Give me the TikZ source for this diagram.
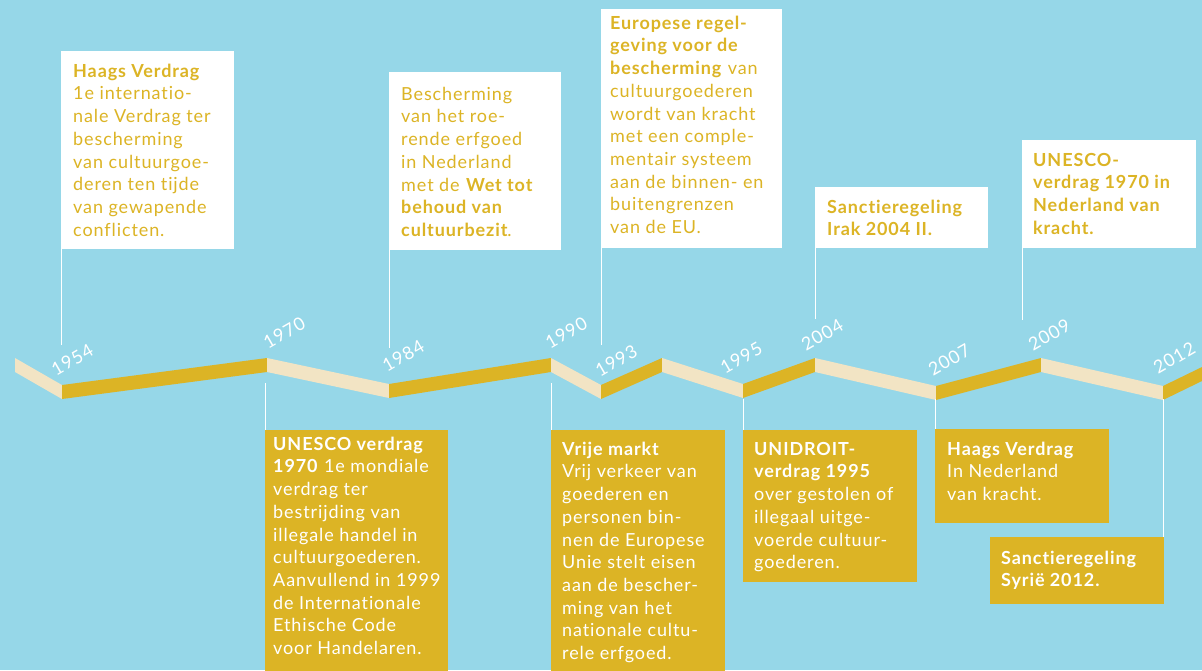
\documentclass[tikz,border=0pt]{standalone}
\usepackage{fontspec}
\setmainfont{Lato}[LetterSpace=5, Ligatures=NoCommon]
\newfontfamily\yrfont{Lato}[LetterSpace=6]
\usetikzlibrary{calc}
\definecolor{bg}{HTML}{96D7E8}
\definecolor{gold}{HTML}{DCB425}
\definecolor{cream}{HTML}{F2E4C4}
\begin{document}
\begin{tikzpicture}[x=1pt,y=-1pt,
  wbox/.style={fill=white, inner sep=0pt, anchor=north west},
  gbox/.style={fill=gold, inner sep=0pt, anchor=north west},
  txt/.style={inner sep=0pt, anchor=north west, align=left, font=\fontsize{18}{22.7}\selectfont},
  wtxt/.style={txt, text=gold},
  gtxt/.style={txt, text=white},
  yr/.style={inner sep=0pt, anchor=south west, rotate=30, text=white, font=\yrfont\fontsize{18}{18}\selectfont},
  conn/.style={draw=white, line width=1.2pt},
  ]
\fill[bg] (0,0) rectangle (1202,670);
\useasboundingbox (0,0) rectangle (1202,670);

% band vertices (top edge)
\path (15,358) coordinate (v0) (62,385) coordinate (v1) (267,358) coordinate (v2)
      (389,384) coordinate (v3) (551,358) coordinate (v4) (601,385) coordinate (v5)
      (662,358) coordinate (v6) (743,384) coordinate (v7) (815,358) coordinate (v8)
      (936,386) coordinate (v9) (1041,358) coordinate (v10) (1163,386) coordinate (v11)
      (1202,367) coordinate (v12);
\foreach \i/\j/\col in {0/1/cream,1/2/gold,2/3/cream,3/4/gold,4/5/cream,5/6/gold,6/7/cream,7/8/gold,8/9/cream,9/10/gold,10/11/cream,11/12/gold}
  \fill[\col] (v\i) -- (v\j) -- ($(v\j)+(0,14)$) -- ($(v\i)+(0,14)$) -- cycle;

% year labels
\node[yr] (y1954) at (56,377) {1954};
\node[yr] (y1970) at (268,350) {1970};
\node[yr] (y1984) at (387,373) {1984};
\node[yr] (y1990) at (550,350) {1990};
\node[yr] (y1993) at (600,378) {1993};
\node[yr] (y1995) at (725,375) {1995};
\node[yr] (y2004) at (806,352) {2004};
\node[yr] (y2007) at (933,377) {2007};
\node[yr] (y2009) at (1033,352) {2009};
\node[yr] (y2012) at (1158,375) {2012};

% connector end points near the band
\coordinate (c1954) at (61.5,345);
\coordinate (c1984) at (389.5,348);
\coordinate (c1993) at (601.5,345);
\coordinate (c2004) at (815.5,319);
\coordinate (c2009) at (1022.5,320);
\coordinate (c1970) at (265.5,383);
\coordinate (c1990) at (551.5,383);
\coordinate (c1995) at (743.5,399);
\coordinate (c2007) at (935.5,399);
\coordinate (c2012) at (1163.5,399);

% top boxes
\node[wbox, minimum width=173pt, minimum height=198pt] (b1) at (61,51) {};
\node[wbox, minimum width=172pt, minimum height=178pt] (b2) at (389,72) {};
\node[wbox, minimum width=181pt, minimum height=239pt] (b3) at (601,9) {};
\node[wbox, minimum width=173pt, minimum height=61pt] (b4) at (815,187) {};
\node[wbox, minimum width=174pt, minimum height=108pt] (b5) at (1022,140) {};
% bottom boxes
\node[gbox, minimum width=183pt, minimum height=245pt] (bA) at (265,430) {};
\node[gbox, minimum width=174pt, minimum height=245pt] (bB) at (551,430) {};
\node[gbox, minimum width=174pt, minimum height=152pt] (bC) at (743,430) {};
\node[gbox, minimum width=174pt, minimum height=94pt] (bD) at (935,429) {};
\node[gbox, minimum width=174pt, minimum height=67pt] (bE) at (990,537) {};

% connectors
\draw[conn] (c1954) -- (c1954 |- b1.south);
\draw[conn] (c1984) -- (c1984 |- b2.south);
\draw[conn] (c1993) -- (c1993 |- b3.south);
\draw[conn] (c2004) -- (c2004 |- b4.south);
\draw[conn] (c2009) -- (c2009 |- b5.south);
\draw[conn] (c1970) -- (c1970 |- bA.north);
\draw[conn] (c1990) -- (c1990 |- bB.north);
\draw[conn] (c1995) -- (c1995 |- bC.north);
\draw[conn] (c2007) -- (c2007 |- bD.north);
\draw[conn] (c2012) -- (c2012 |- bE.north);

% texts in top boxes
\node[wtxt] (t1) at (73,63) {\rule{0pt}{14pt}\textbf{Haags Verdrag}\\1e internatio-\\nale Verdrag ter\\bescherming\\van cultuurgoe-\\deren ten tijde\\van gewapende\\conflicten.};
\node[wtxt] (t2) at (401,86) {\rule{0pt}{14pt}Bescherming\\van het roe-\\rende erfgoed\\in Nederland\\met de \textbf{Wet tot}\\\textbf{behoud van}\\\textbf{cultuurbezit}.};
\node[wtxt] (t3) at (610,15) {\rule{0pt}{14pt}\textbf{Europese regel-}\\\textbf{geving voor de}\\\textbf{bescherming} van\\cultuurgoederen\\wordt van kracht\\met een comple-\\mentair systeem\\aan de binnen- en\\buitengrenzen\\van de EU.};
\node[wtxt] (t4) at (827,199) {\rule{0pt}{14pt}\textbf{Sanctieregeling}\\\textbf{Irak 2004 II.}};
\node[wtxt] (t5) at (1033,152) {\rule{0pt}{14pt}\textbf{UNESCO-}\\\textbf{verdrag 1970 in}\\\textbf{Nederland van}\\\textbf{kracht.}};

% texts in bottom boxes
\node[gtxt] (tA) at (273,436) {\rule{0pt}{14pt}\textbf{UNESCO verdrag}\\\textbf{1970} 1e mondiale\\verdrag ter\\bestrijding van\\illegale handel in\\cultuurgoederen.\\Aanvullend in 1999\\de Internationale\\Ethische Code\\voor Handelaren.};
\node[gtxt] (tB) at (562,441) {\rule{0pt}{14pt}\textbf{Vrije markt}\\Vrij verkeer van\\goederen en\\personen bin-\\nen de Europese\\Unie stelt eisen\\aan de bescher-\\ming van het\\nationale cultu-\\rele erfgoed.};
\node[gtxt] (tC) at (754,441) {\rule{0pt}{14pt}\textbf{UNIDROIT-}\\\textbf{verdrag 1995}\\over gestolen of\\illegaal uitge-\\voerde cultuur-\\goederen.};
\node[gtxt] (tD) at (947,441) {\rule{0pt}{14pt}\textbf{Haags Verdrag}\\In Nederland\\van kracht.};
\node[gtxt] (tE) at (1001,550) {\rule{0pt}{14pt}\textbf{Sanctieregeling}\\\textbf{Syrië 2012.}};
\end{tikzpicture}
\end{document}
